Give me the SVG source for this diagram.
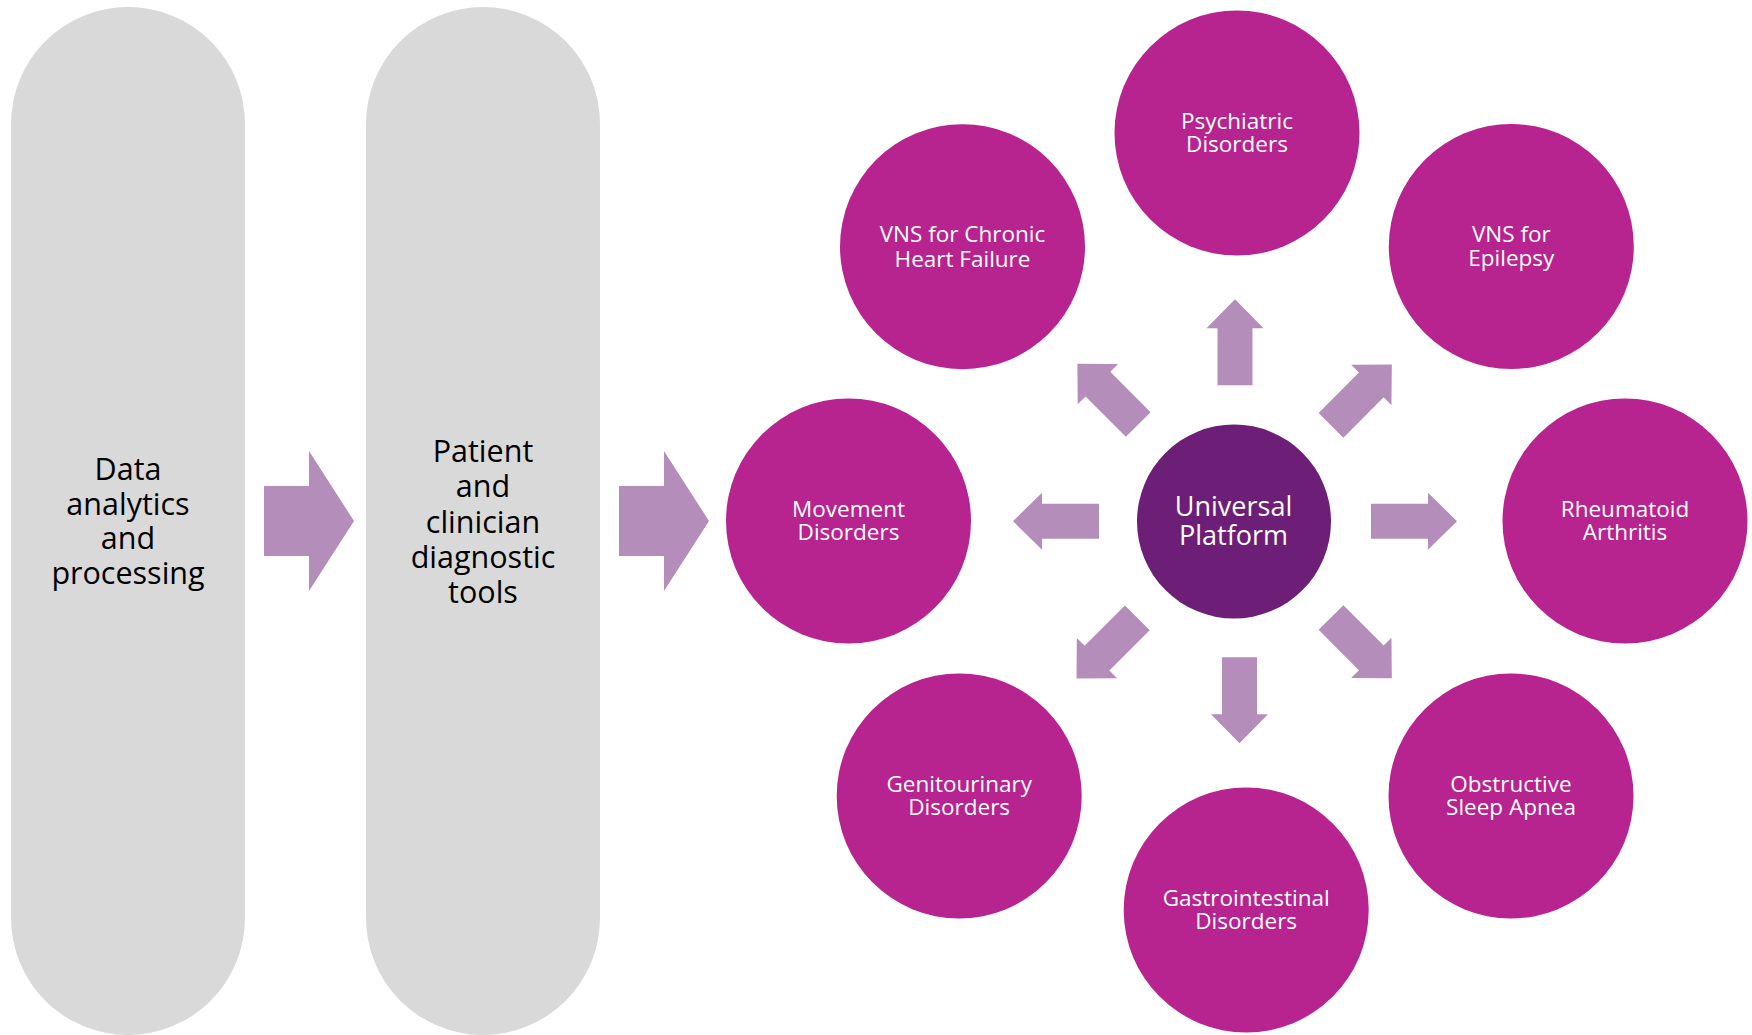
<svg xmlns="http://www.w3.org/2000/svg" xmlns:xlink="http://www.w3.org/1999/xlink" width="1752" height="1035" viewBox="0 0 1752 1035">
<style>
.pill{fill:#D9D9D9}
.ptxt{font-family:"Open Sans","Liberation Sans",sans-serif;font-size:30.5px;fill:#000;text-anchor:middle}
.disc{fill:#B7238F}
.hub{fill:#6D1E76}
.ctxt{font-family:"Open Sans","Liberation Sans",sans-serif;font-size:22.5px;fill:#FFFFFF;text-anchor:middle}
.htxt{font-family:"Open Sans","Liberation Sans",sans-serif;font-size:27px;fill:#FFFFFF;text-anchor:middle}
.arr{fill:#B58DBA}
</style>
<defs>
<polygon id="arw" points="0,-17.5 57,-17.5 57,-28.5 86,0 57,28.5 57,17.5 0,17.5"/>
</defs>
<rect width="1752" height="1035" fill="#FFFFFF"/>

<g id="data-analytics">
<rect class="pill" x="11" y="7" width="234" height="1028" rx="117" ry="117"/>
<text class="ptxt" x="128" y="480"><tspan x="128" y="480">Data</tspan><tspan x="128" y="514.7">analytics</tspan><tspan x="128" y="549.3">and</tspan><tspan x="128" y="584">processing</tspan></text>
</g>

<g id="diagnostic-tools">
<rect class="pill" x="366" y="7" width="234" height="1028" rx="117" ry="117"/>
<text class="ptxt" x="483" y="462"><tspan x="483" y="462">Patient</tspan><tspan x="483" y="497">and</tspan><tspan x="483" y="532.5">clinician</tspan><tspan x="483" y="567.5">diagnostic</tspan><tspan x="483" y="602.5">tools</tspan></text>
</g>

<g id="connectors">
<polygon class="arr" points="264,486 309,486 309,451 354,521 309,591 309,556 264,556"/>
<polygon class="arr" points="619,486 664,486 664,451 709,521 664,591 664,556 619,556"/>
<use xlink:href="#arw" class="arr" transform="translate(1235,385.3) rotate(-90)"/>
<use xlink:href="#arw" class="arr" transform="translate(1239.5,657.3) rotate(90)"/>
<use xlink:href="#arw" class="arr" transform="translate(1099,521.2) rotate(180)"/>
<use xlink:href="#arw" class="arr" transform="translate(1371,521.2)"/>
<use xlink:href="#arw" class="arr" transform="translate(1138.2,424.5) rotate(-135)"/>
<use xlink:href="#arw" class="arr" transform="translate(1331,425.3) rotate(-45)"/>
<use xlink:href="#arw" class="arr" transform="translate(1137.3,617.8) rotate(135)"/>
<use xlink:href="#arw" class="arr" transform="translate(1331,617.5) rotate(45)"/>
</g>

<g id="universal-platform">
<circle class="hub" cx="1234" cy="521.5" r="97"/>
<text class="htxt" x="1233.5" y="515.7"><tspan x="1233.5" y="515.7">Universal</tspan><tspan x="1233.5" y="545">Platform</tspan></text>
</g>

<g id="psychiatric">
<circle class="disc" cx="1237" cy="133" r="122.5"/>
<text class="ctxt" x="1237" y="129.3"><tspan x="1237" y="129.3">Psychiatric</tspan><tspan x="1237" y="152.3">Disorders</tspan></text>
</g>

<g id="vns-chf">
<circle class="disc" cx="962.5" cy="246.7" r="122.5"/>
<text class="ctxt" x="962.5" y="242.3"><tspan x="962.5" y="242.3">VNS for Chronic</tspan><tspan x="962.5" y="266.5">Heart Failure</tspan></text>
</g>

<g id="vns-epilepsy">
<circle class="disc" cx="1511.3" cy="246.5" r="122.5"/>
<text class="ctxt" x="1511.3" y="242"><tspan x="1511.3" y="242">VNS for</tspan><tspan x="1511.3" y="265.5">Epilepsy</tspan></text>
</g>

<g id="movement">
<circle class="disc" cx="848.5" cy="521" r="122.5"/>
<text class="ctxt" x="848.5" y="517.3"><tspan x="848.5" y="517.3">Movement</tspan><tspan x="848.5" y="540.3">Disorders</tspan></text>
</g>

<g id="rheumatoid">
<circle class="disc" cx="1625" cy="521" r="122.5"/>
<text class="ctxt" x="1625" y="517.3"><tspan x="1625" y="517.3">Rheumatoid</tspan><tspan x="1625" y="540.3">Arthritis</tspan></text>
</g>

<g id="genitourinary">
<circle class="disc" cx="959.2" cy="796" r="122.5"/>
<text class="ctxt" x="959.2" y="791.5"><tspan x="959.2" y="791.5">Genitourinary</tspan><tspan x="959.2" y="814.5">Disorders</tspan></text>
</g>

<g id="sleep-apnea">
<circle class="disc" cx="1511" cy="796" r="122.5"/>
<text class="ctxt" x="1511" y="791.8"><tspan x="1511" y="791.8">Obstructive</tspan><tspan x="1511" y="814.8">Sleep Apnea</tspan></text>
</g>

<g id="gastrointestinal">
<circle class="disc" cx="1246.2" cy="910" r="122.5"/>
<text class="ctxt" x="1246.2" y="906"><tspan x="1246.2" y="906">Gastrointestinal</tspan><tspan x="1246.2" y="928.7">Disorders</tspan></text>
</g>
</svg>
